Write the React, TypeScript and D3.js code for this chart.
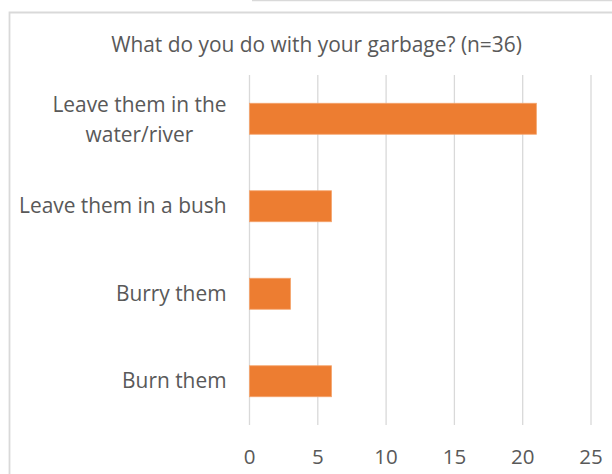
import React from "react";
import * as d3 from "d3";

const title = "What do you do with your garbage? (n=36)";
const categories = ["Leave them in the|water/river", "Leave them in a bush", "Burry them", "Burn them"];
const values = [21, 6, 3, 6];
const xTicks = [0, 5, 10, 15, 20, 25];

const W = 612;
const H = 474;
const FONT = "'Open Sans', sans-serif";
const TEXT = "#595959";
const GRID = "#D9D9D9";
const BAR = "#ED7D31";
const LABEL_SIZE = 20.9;

function measure(s: string, size: number): number {
  const cv = document.createElement("canvas");
  const ctx = cv.getContext("2d");
  if (!ctx) return s.length * size * 0.5;
  ctx.font = `${size}px 'Open Sans', sans-serif`;
  return ctx.measureText(s).width;
}

export default function App() {
  const x = d3.scaleLinear().domain([0, 25]).range([249.5, 591]);
  const y = d3.scaleBand<string>().domain(categories).range([75, 425]).paddingInner(0.646).paddingOuter(0.323);
  const labelRight = 226.5;

  return (
    <svg width={W} height={H} style={{ position: "absolute", left: 0, top: 0, background: "#fff" }} fontFamily={FONT}>
      <rect x={0} y={0} width={W} height={H} fill="#fff" />
      <line x1={252} x2={W} y1={0.5} y2={0.5} stroke={GRID} strokeWidth={1.5} />
      <path d={`M9.5,${H} V12.5 H${W}`} fill="none" stroke={GRID} strokeWidth={1.8} />
      <text x={316.5} y={52} textAnchor="middle" fontSize={20.9} fill={TEXT}>{title}</text>
      {xTicks.map((t) => (
        <g key={t}>
          <line x1={x(t)} x2={x(t)} y1={75} y2={425} stroke={GRID} strokeWidth={1.3} />
          <text x={x(t)} y={464} textAnchor="middle" fontSize={20.5} fill={TEXT}>{t}</text>
        </g>
      ))}
      {categories.map((c, i) => {
        const cy = (y(c) as number) + y.bandwidth() / 2;
        const lines = c.split("|");
        const multi = lines.length > 1;
        const widest = multi ? Math.max(...lines.map((l) => measure(l, LABEL_SIZE))) : 0;
        const tx = multi ? labelRight - widest / 2 : labelRight;
        return (
          <g key={c}>
            <rect
              x={x(0)}
              y={y(c)}
              width={x(values[i]) - x(0)}
              height={y.bandwidth()}
              fill={BAR}
              stroke="#F4A36B"
              strokeWidth={0.8}
            />
            {lines.map((ln, j) => (
              <text
                key={j}
                x={tx}
                y={cy + 7 + (j - (lines.length - 1) / 2) * 30 + (multi ? 1 : 0)}
                textAnchor={multi ? "middle" : "end"}
                fontSize={LABEL_SIZE}
                fill={TEXT}
              >
                {ln}
              </text>
            ))}
          </g>
        );
      })}
    </svg>
  );
}
